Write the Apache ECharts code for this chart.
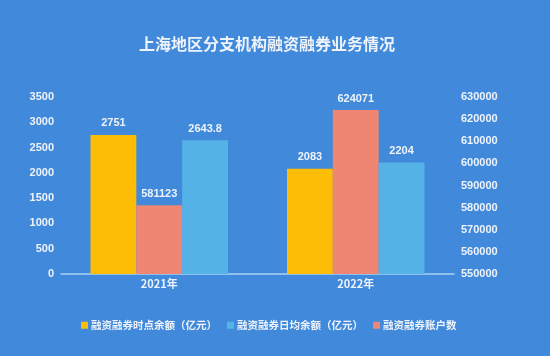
<!DOCTYPE html>
<html><head><meta charset="utf-8">
<script src="https://cdn.jsdelivr.net/npm/echarts@6/dist/echarts.min.js"></script>
<style>html,body{margin:0;padding:0;background:#4089db;}#c{width:550px;height:356px;}</style>
</head><body><div id="c"></div>
<script>
const categories = ['2021年', '2022年'];
const pointBalance = [2751, 2083];
const accountCount = [581123, 624071];
const dailyAvgBalance = [2643.8, 2204];
const seriesNames = ['融资融券时点余额（亿元）', '融资融券日均余额（亿元）', '融资融券账户数'];
const title = '上海地区分支机构融资融券业务情况';

const txt = '#eef3fb';
const chart = echarts.init(document.getElementById('c'));
const lbl = {show: true, position: 'top', color: txt, fontSize: 11, fontWeight: 'bold', fontFamily: 'Liberation Sans, Arial', distance: 6};
const plain = v => String(v);
chart.setOption({
  backgroundColor: '#4089db',
  title: {text: title, left: 134, top: 31, textStyle: {color: txt, fontSize: 16, fontWeight: 'bold', fontFamily: 'Noto Sans CJK SC'}},
  legend: {
    data: [seriesNames[0], seriesNames[1], seriesNames[2]],
    left: 76, top: 315, itemWidth: 7, itemHeight: 7, itemGap: 10, icon: 'rect',
    textStyle: {color: txt, fontSize: 10.5, fontWeight: 'bold', fontFamily: 'Noto Sans CJK SC', padding: [0, 0, 0, -2]}
  },
  grid: {left: 61, right: 96, top: 97, bottom: 82},
  xAxis: {
    type: 'category', data: categories,
    axisLine: {lineStyle: {color: '#a9d2f5', width: 1.5}}, axisTick: {show: false},
    axisLabel: {color: txt, fontSize: 11, fontWeight: 'bold', fontFamily: 'Noto Sans CJK SC', margin: 4}
  },
  yAxis: [
    {type: 'value', min: 0, max: 3500, interval: 500, splitLine: {show: false},
     axisLine: {show: false}, axisTick: {show: false},
     axisLabel: {formatter: plain, color: txt, fontSize: 11, fontWeight: 'bold', fontFamily: 'Liberation Sans, Arial', margin: 7}},
    {type: 'value', min: 550000, max: 630000, interval: 10000, splitLine: {show: false},
     axisLine: {show: false}, axisTick: {show: false},
     axisLabel: {formatter: plain, color: txt, fontSize: 11, fontWeight: 'bold', fontFamily: 'Liberation Sans, Arial', margin: 7}}
  ],
  series: [
    {name: seriesNames[0], type: 'bar', yAxisIndex: 0, data: pointBalance, barGap: '0%', barCategoryGap: '30%',
     itemStyle: {color: '#fdbd06'}, label: lbl},
    {name: seriesNames[2], type: 'bar', yAxisIndex: 1, data: accountCount,
     itemStyle: {color: '#ee8673'}, label: lbl},
    {name: seriesNames[1], type: 'bar', yAxisIndex: 0, data: dailyAvgBalance,
     itemStyle: {color: '#55b2e6'}, label: lbl}
  ]
});
</script></body></html>
